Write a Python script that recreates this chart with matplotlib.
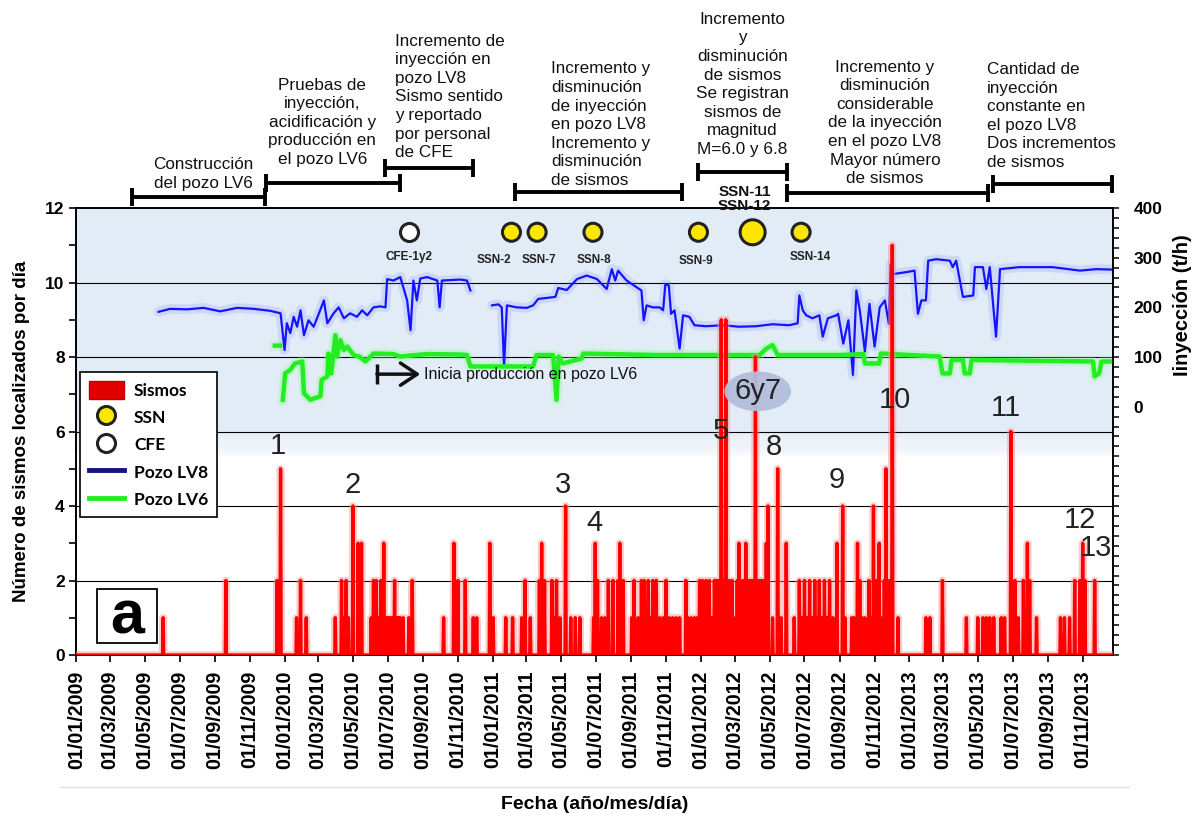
import numpy as np
import pandas as pd
import matplotlib
matplotlib.use('Agg')
import matplotlib.pyplot as plt
import matplotlib.dates as mdates
from matplotlib.lines import Line2D
from matplotlib.patches import Patch, Rectangle
from matplotlib.ticker import FixedLocator, MultipleLocator
from matplotlib.transforms import blended_transform_factory

plt.rcParams['font.family'] = ['Liberation Sans', 'DejaVu Sans']

# --- sismos localizados por dia (solo dias con eventos) ---
sismo_fechas = [
    '2009-06-02', '2009-09-20', '2009-12-19', '2009-12-25', '2010-01-22', '2010-01-29',
    '2010-02-08', '2010-03-31', '2010-04-11', '2010-04-15', '2010-04-19', '2010-04-23',
    '2010-05-01', '2010-05-10', '2010-05-16', '2010-06-02', '2010-06-06', '2010-06-11',
    '2010-06-15', '2010-06-19', '2010-06-24', '2010-06-28', '2010-07-03', '2010-07-07',
    '2010-07-13', '2010-07-17', '2010-07-23', '2010-07-28', '2010-08-07', '2010-08-13',
    '2010-10-07', '2010-10-25', '2010-11-01', '2010-11-14', '2010-11-28', '2010-12-04',
    '2010-12-27', '2011-01-02', '2011-01-24', '2011-02-05', '2011-02-21', '2011-02-27',
    '2011-03-08', '2011-03-24', '2011-03-28', '2011-04-02', '2011-04-15', '2011-04-19',
    '2011-04-23', '2011-04-29', '2011-05-09', '2011-05-18', '2011-05-26', '2011-06-03',
    '2011-06-27', '2011-06-30', '2011-07-04', '2011-07-11', '2011-07-17', '2011-07-23',
    '2011-07-31', '2011-08-09', '2011-08-12', '2011-08-18', '2011-09-02', '2011-09-06',
    '2011-09-19', '2011-09-24', '2011-09-28', '2011-10-01', '2011-10-05', '2011-10-09',
    '2011-10-15', '2011-10-21', '2011-11-01', '2011-11-13', '2011-11-19', '2011-11-25',
    '2011-12-06', '2011-12-15', '2011-12-21', '2011-12-30', '2012-01-04', '2012-01-10',
    '2012-01-16', '2012-01-22', '2012-01-28', '2012-02-06', '2012-02-14', '2012-02-20',
    '2012-02-25', '2012-03-02', '2012-03-08', '2012-03-14', '2012-03-20', '2012-03-26',
    '2012-04-06', '2012-04-12', '2012-04-18', '2012-04-28', '2012-05-06', '2012-05-15',
    '2012-05-21', '2012-05-30', '2012-06-13', '2012-06-22', '2012-07-01', '2012-07-10',
    '2012-07-19', '2012-07-27', '2012-08-05', '2012-08-14', '2012-08-20', '2012-08-27',
    '2012-09-06', '2012-09-22', '2012-10-02', '2012-10-06', '2012-10-15', '2012-10-22',
    '2012-10-30', '2012-11-04', '2012-11-09', '2012-11-15', '2012-11-21', '2012-11-27',
    '2012-12-02', '2012-12-12', '2013-01-30', '2013-02-06', '2013-02-28', '2013-04-11',
    '2013-05-01', '2013-05-10', '2013-05-16', '2013-05-22', '2013-05-29', '2013-06-11',
    '2013-06-17', '2013-06-28', '2013-07-05', '2013-07-11', '2013-07-20', '2013-07-27',
    '2013-07-31', '2013-08-12', '2013-09-23', '2013-09-30', '2013-10-09', '2013-10-18',
    '2013-10-27', '2013-11-01', '2013-11-05', '2013-11-22',
    # dias adicionales en los periodos de mayor actividad
    '2010-06-08', '2010-07-01', '2010-07-10', '2010-07-20', '2011-09-13', '2011-10-12',
    '2011-10-27', '2011-11-07', '2011-12-10', '2011-12-26', '2012-01-07', '2012-01-13',
    '2012-01-19', '2012-01-25', '2012-02-01', '2012-02-10', '2012-02-17', '2012-03-05',
    '2012-03-11', '2012-03-17', '2012-03-23', '2012-03-29', '2012-04-02', '2012-04-09',
    '2012-04-15', '2012-04-22', '2012-04-25', '2012-06-26', '2012-07-05', '2012-07-14',
    '2012-07-23', '2012-08-01', '2012-08-09', '2012-09-10', '2012-09-26', '2012-10-10',
    '2012-10-26', '2012-11-18',
]
sismo_num = [
    1, 2, 2, 5, 1, 2,
    1, 1, 2, 1, 2, 1,
    4, 3, 3, 1, 2, 2,
    1, 2, 3, 1, 1, 1,
    2, 1, 1, 1, 1, 2,
    1, 3, 2, 2, 1, 1,
    3, 1, 1, 1, 1, 2,
    1, 2, 3, 2, 2, 1,
    2, 1, 4, 1, 1, 1,
    1, 3, 2, 1, 1, 2,
    2, 2, 3, 2, 1, 2,
    2, 2, 1, 2, 1, 2,
    2, 1, 2, 1, 1, 1,
    2, 1, 1, 2, 2, 2,
    2, 1, 2, 9, 9, 2,
    2, 1, 3, 2, 3, 2,
    8, 2, 2, 4, 1, 5,
    1, 3, 1, 2, 2, 2,
    2, 2, 2, 2, 1, 3,
    4, 1, 3, 2, 1, 2,
    4, 2, 3, 1, 5, 2,
    11, 1, 1, 1, 2, 1,
    1, 1, 1, 1, 1, 1,
    1, 6, 2, 1, 2, 3,
    2, 1, 1, 1, 1, 2,
    2, 3, 2, 2,
    1, 1, 1, 1, 1, 1,
    1, 1, 1, 1, 1, 1,
    1, 2, 2, 2, 1, 2,
    1, 2, 2, 2, 2, 2,
    2, 2, 3, 1, 1, 1,
    1, 1, 1, 1, 1, 1,
    1, 2,
]

# --- inyeccion pozo LV8 (t/h) ---
lv8_fechas = [
    '2009-05-25', '2009-06-14', '2009-07-14', '2009-08-12', '2009-09-10', '2009-10-10',
    '2009-11-08', '2009-12-07', '2009-12-25', '2010-01-01', '2010-01-05', '2010-01-11',
    '2010-01-17', '2010-01-23', '2010-01-29', '2010-02-04', '2010-02-12', '2010-02-21',
    '2010-03-02', '2010-03-11', '2010-03-17', '2010-03-28', '2010-04-06', '2010-04-15',
    '2010-04-26', '2010-05-08', '2010-05-17', '2010-05-26', '2010-06-06', '2010-06-18',
    '2010-06-27', '2010-06-30', '2010-07-11', '2010-07-23', '2010-08-04', '2010-08-10',
    '2010-08-15', '2010-08-21', '2010-08-27', '2010-09-08', '2010-09-26', '2010-09-30',
    '2010-10-04', '2010-11-05', '2010-11-17', '2010-11-23', '2010-12-10',
    '2010-12-31', '2011-01-11', '2011-01-17', '2011-01-21', '2011-01-26', '2011-02-12',
    '2011-03-02', '2011-03-13', '2011-03-22', '2011-04-06', '2011-04-21', '2011-04-26',
    '2011-05-11', '2011-05-29', '2011-06-15', '2011-07-03', '2011-07-20', '2011-07-29',
    '2011-08-04', '2011-08-09', '2011-08-24', '2011-09-10', '2011-09-19', '2011-09-23',
    '2011-09-28', '2011-10-09', '2011-10-21', '2011-10-27', '2011-10-31', '2011-11-06',
    '2011-11-10', '2011-11-16', '2011-11-25', '2011-12-01', '2011-12-12', '2011-12-21',
    '2012-01-10', '2012-02-09', '2012-03-08', '2012-04-07', '2012-05-06', '2012-06-04',
    '2012-06-19', '2012-06-22', '2012-06-28', '2012-07-04', '2012-07-15', '2012-07-27',
    '2012-08-02', '2012-08-11', '2012-08-26', '2012-08-29', '2012-09-07', '2012-09-16',
    '2012-09-24', '2012-09-30', '2012-10-06', '2012-10-15', '2012-10-23', '2012-11-01',
    '2012-11-10', '2012-11-19', '2012-11-26', '2012-11-29', '2012-12-03', '2012-12-27',
    '2013-01-10', '2013-01-16', '2013-01-22', '2013-01-30', '2013-02-03', '2013-02-17',
    '2013-03-13', '2013-03-18', '2013-03-24', '2013-04-05', '2013-04-23', '2013-04-26',
    '2013-05-10', '2013-05-16', '2013-05-22', '2013-06-02', '2013-06-09', '2013-07-13',
    '2013-09-09', '2013-10-27', '2013-11-25', '2013-12-23',
]
lv8_iny = [
    191, 197, 196, 199, 192, 199,
    197, 193, 188, 114, 168, 148,
    181, 161, 194, 144, 174, 161,
    187, 214, 168, 188, 200, 178,
    188, 181, 194, 184, 200, 202,
    200, 257, 254, 261, 214, 154,
    254, 214, 258, 261, 254, 200,
    254, 256, 254, 234, np.nan,
    204, 206, 200, 81, 204, 200,
    199, 204, 217, 219, 221, 239,
    235, 257, 264, 257, 237, 277,
    254, 274, 254, 241, 234, 174,
    204, 200, 200, 194, 247, 244,
    187, 194, 117, 184, 181, 164,
    162, 164, 161, 162, 166, 164,
    168, 224, 194, 184, 178, 184,
    141, 178, 184, 187, 127, 174,
    64, 234, 194, 111, 207, 121,
    200, 214, 167, 287, 267, 271,
    274, 187, 214, 214, 294, 297,
    294, 281, 294, 221, 224, 281,
    281, 237, 281, 141, 277, 281,
    281, 274, 277, 276,
]

# --- produccion pozo LV6 (t/h) ---
lv6_fechas = [
    '2009-12-15', '2009-12-24', '2009-12-27',
    '2009-12-29', '2010-01-02', '2010-01-11', '2010-01-19', '2010-02-01', '2010-02-04',
    '2010-02-15', '2010-03-05', '2010-03-07', '2010-03-17', '2010-03-19', '2010-03-24',
    '2010-03-31', '2010-04-03', '2010-04-09', '2010-04-15', '2010-04-21', '2010-05-02',
    '2010-05-12', '2010-05-23', '2010-06-06', '2010-07-11', '2010-07-23', '2010-09-08',
    '2010-11-05', '2010-11-17', '2010-11-23', '2011-03-13', '2011-03-19', '2011-04-17',
    '2011-04-23', '2011-04-27', '2011-05-04', '2011-06-06', '2011-06-09', '2011-10-15',
    '2012-04-13', '2012-04-25', '2012-05-06', '2012-05-15', '2012-09-01', '2012-10-12',
    '2012-10-15', '2012-11-09', '2012-11-12', '2013-02-23', '2013-02-28', '2013-03-13',
    '2013-03-16', '2013-04-05', '2013-04-08', '2013-04-17', '2013-04-20', '2013-11-19',
    '2013-11-22', '2013-11-30', '2013-12-04', '2013-12-23',
]
lv6_iny = [
    123, 123, np.nan,
    14, 67, 74, 87, 91, 27,
    14, 21, 54, 61, 107, 67,
    144, 101, 134, 114, 121, 104,
    101, 91, 107, 106, 101, 106,
    105, 104, 81, 81, 104, 104,
    14, 101, 87, 97, 107, 104,
    104, 117, 124, 104, 104, 106,
    87, 87, 107, 101, 67, 67,
    94, 94, 67, 67, 94, 91,
    61, 67, 91, 91,
]

# --- estaciones SSN y CFE ---
ssn_fechas = ['2011-02-03', '2011-03-20', '2011-06-26', '2011-12-28', '2012-04-01', '2012-06-25']
ssn_tam = [13, 13, 13, 13, 18, 13]
cfe_fechas = ['2010-08-08']
marca_y = 11.35
ssn_etiquetas = [('CFE-1y2', '2010-08-08', 10.68), ('SSN-2', '2011-01-04', 10.6),
                 ('SSN-7', '2011-03-24', 10.6), ('SSN-8', '2011-06-28', 10.6),
                 ('SSN-9', '2011-12-23', 10.57), ('SSN-14', '2012-07-11', 10.68)]

# --- numeracion de eventos ---
eventos = [('1', '2009-12-21', 5.61), ('2', '2010-04-30', 4.56), ('3', '2011-05-04', 4.56),
           ('4', '2011-06-28', 3.54), ('5', '2012-02-06', 6.01), ('8', '2012-05-08', 5.58),
           ('9', '2012-08-26', 4.70), ('10', '2012-12-07', 6.85), ('11', '2013-06-20', 6.63),
           ('12', '2013-10-27', 3.62), ('13', '2013-11-25', 2.87)]

# --- etapas (inicio, fin, altura de la barra en fraccion del eje) ---
etapas = [('2009-04-08', '2009-11-27', 1.0246), ('2009-11-29', '2010-07-23', 1.0559),
          ('2010-06-27', '2010-11-28', 1.0895), ('2011-02-09', '2011-11-30', 1.0358),
          ('2011-12-27', '2012-06-01', 1.0805), ('2012-06-01', '2013-05-19', 1.0336),
          ('2013-05-27', '2013-12-22', 1.0537)]
etapa_textos = [
    ('2009-08-12', 1.038, 'center', 'Construcción\ndel pozo LV6'),
    ('2010-03-08', 1.092, 'center', 'Pruebas de\ninyección,\nacidificación y\nproducción en\nel pozo LV6'),
    ('2010-07-14', 1.107, 'left', 'Incremento de\ninyección en\npozo LV8\nSismo sentido\ny reportado\npor personal\nde CFE'),
    ('2011-04-13', 1.045, 'left', 'Incremento y\ndisminución\nde inyección\nen pozo LV8\nIncremento y\ndisminución\nde sismos'),
    ('2012-03-14', 1.114, 'center', 'Incremento\ny\ndisminución\nde sismos\nSe registran\nsismos de\nmagnitud\nM=6.0 y 6.8'),
    ('2012-11-19', 1.049, 'center', 'Incremento y\ndisminución\nconsiderable\nde la inyección\nen el pozo LV8\nMayor número\nde sismos'),
    ('2013-05-17', 1.085, 'left', 'Cantidad de\ninyección\nconstante en\nel pozo LV8\nDos incrementos\nde sismos'),
]

fig = plt.figure(figsize=(11.95, 8.21), dpi=100)
ax = fig.add_axes([0.064, 0.2022, 0.8673, 0.5444])
ax2 = ax.twinx()
ax.set_zorder(ax2.get_zorder() + 1)
ax.patch.set_visible(False)

x0, x1 = pd.Timestamp('2009-01-01'), pd.Timestamp('2013-12-24')
ax.set_xlim(x0, x1)
ax.set_ylim(0, 12)
ax2.set_ylim(-500, 400)

# fondo azul claro en la parte alta, difuminado hacia abajo
fondo = '#e2ecf7'
ax2.add_patch(Rectangle((0, 0.50), 1, 0.50, transform=ax2.transAxes,
                        facecolor=fondo, edgecolor='none', zorder=0))
n_fade = 14
for i in range(n_fade):
    ax2.add_patch(Rectangle((0, 0.44 + i * 0.06 / n_fade), 1, 0.06 / n_fade + 0.001,
                            transform=ax2.transAxes, facecolor=fondo, edgecolor='none',
                            alpha=(i + 1) / (n_fade + 1), zorder=0))
ax2.hlines([2, 4, 6, 8, 10], 0, 1, transform=blended_transform_factory(ax2.transAxes, ax.transData),
           colors='black', lw=0.8, zorder=1)

# curvas de inyeccion y produccion
f8 = pd.to_datetime(lv8_fechas)
f6 = pd.to_datetime(lv6_fechas)
ax2.plot(f8, lv8_iny, color='#6f7bff', lw=7, alpha=0.18, zorder=2, solid_capstyle='round')
ax2.plot(f8, lv8_iny, color='#1414ff', lw=1.6, zorder=3)
ax2.plot(f6, lv6_iny, color='#7dff7d', lw=7, alpha=0.3, zorder=2)
ax2.plot(f6, lv6_iny, color='#22ee22', lw=3.2, zorder=3)

# serie diaria de sismos
dias = pd.date_range('2009-01-01', '2013-12-31', freq='D')
serie = pd.Series(0.0, index=dias)
serie.loc[pd.to_datetime(sismo_fechas)] = sismo_num
ax.plot(serie.index, serie.values, color='#ff8c8c', lw=5.5, alpha=0.45, zorder=3)
ax.plot(serie.index, serie.values, color='#ff0000', lw=2.4, zorder=4)

# estaciones
ax.scatter(pd.to_datetime(ssn_fechas), np.full(len(ssn_fechas), marca_y), s=np.array(ssn_tam) ** 2,
           c='#ffe600', edgecolors='#222222', linewidths=2.2, zorder=6)
ax.scatter(pd.to_datetime(cfe_fechas), np.full(len(cfe_fechas), marca_y), s=13 ** 2,
           c='white', edgecolors='#222222', linewidths=2.2, zorder=6)
for txt, f, y in ssn_etiquetas:
    ax.text(pd.Timestamp(f), y, txt, fontsize=8.5, fontweight='bold', color='#222222',
            ha='center', va='center', zorder=6)
ax.text(pd.Timestamp('2012-03-18'), 12.24, 'SSN-11\nSSN-12', fontsize=11, fontweight='bold',
        color='#111111', ha='center', va='center', linespacing=1.0, clip_on=False, zorder=6)

# numeracion de eventos
for txt, f, y in eventos:
    ax.text(pd.Timestamp(f), y, txt, fontsize=21, color='#222222', ha='center', va='center', zorder=7)
ax.text(pd.Timestamp('2012-04-10'), 7.08, '6y7', fontsize=21, color='#222222', ha='center',
        va='center', zorder=7,
        bbox=dict(boxstyle='ellipse,pad=0.0', fc='#b3bedb', ec='none', alpha=0.95))

# inicio de produccion
flecha_ini, flecha_fin, flecha_y = pd.Timestamp('2010-06-12'), pd.Timestamp('2010-08-27'), 7.54
ax.annotate('', xy=(flecha_fin, flecha_y), xytext=(flecha_ini, flecha_y),
            arrowprops=dict(arrowstyle='->,head_length=0.6,head_width=0.4', lw=2.5,
                            color='#111111', mutation_scale=20, shrinkA=0, shrinkB=0),
            zorder=7)
ax.plot([flecha_ini, flecha_ini], [flecha_y - 0.27, flecha_y + 0.27], color='#111111', lw=2.5,
        zorder=7, solid_capstyle='butt')
ax.text(pd.Timestamp('2010-09-03'), flecha_y, 'Inicia producción en pozo LV6', fontsize=11.5,
        color='#111111', ha='left', va='center', zorder=7)

# recuadro "a"
ax.add_patch(Rectangle((0.0198, 0.0268), 0.0579, 0.1208, transform=ax.transAxes, fc='white',
                       ec='black', lw=1.3, zorder=8))
ax.text(0.0487, 0.049, 'a', transform=ax.transAxes, fontsize=44, fontweight='bold',
        ha='center', va='baseline', zorder=9)

# etapas sobre la grafica
tr = blended_transform_factory(ax.transData, ax.transAxes)
for ini, fin, yb in etapas:
    a, b = pd.Timestamp(ini), pd.Timestamp(fin)
    ax.plot([a, b], [yb, yb], color='black', lw=2.8, transform=tr, clip_on=False, solid_capstyle='butt')
    for xx in (a, b):
        ax.plot([xx, xx], [yb - 0.021, yb + 0.021], color='black', lw=2.8, transform=tr,
                clip_on=False, solid_capstyle='butt')
for f, yt, ha, txt in etapa_textos:
    ax.text(pd.Timestamp(f), yt, txt, transform=tr, fontsize=12.3, ha=ha, va='bottom',
            multialignment=ha, linespacing=1.3, color='#111111')

# ejes
ax.xaxis.set_major_locator(mdates.MonthLocator(bymonth=[1, 3, 5, 7, 9, 11]))
ax.xaxis.set_major_formatter(mdates.DateFormatter('%d/%m/%Y'))
ax.tick_params(axis='x', direction='out', length=5, width=1.2, labelsize=14.2, rotation=90, pad=6)
ax.set_yticks(range(0, 13, 2))
ax.yaxis.set_minor_locator(MultipleLocator(1))
ax.tick_params(axis='y', which='both', direction='out', length=5, width=1.2, labelsize=12.5)
for lbl in ax.get_xticklabels() + ax.get_yticklabels():
    lbl.set_fontweight('bold')

ax2.yaxis.set_major_locator(FixedLocator([0, 100, 200, 300, 400]))
ax2.yaxis.set_minor_locator(MultipleLocator(20))
ax2.tick_params(axis='y', which='both', direction='out', length=4, width=1.1, labelsize=12.5, pad=11)
for lbl in ax2.get_yticklabels():
    lbl.set_fontweight('bold')

for a_ in (ax, ax2):
    for sp in a_.spines.values():
        sp.set_linewidth(1.2)

ax.set_ylabel('Número de sismos localizados por día', fontsize=13.5, fontweight='bold')
ax.yaxis.set_label_coords(-0.045, 0.5)
ax.set_xlabel('Fecha (año/mes/día)', fontsize=14, fontweight='bold')
ax.xaxis.set_label_coords(0.5, -0.316)
ax2.set_ylabel('Iinyección (t/h)', fontsize=14.5, fontweight='bold')
ax2.yaxis.set_label_coords(1.058, 0.783)

# leyenda
handles = [Patch(facecolor='#e00000', edgecolor='#c00000'),
           Line2D([], [], marker='o', ls='none', markersize=13, markerfacecolor='#ffe600',
                  markeredgecolor='#222222', markeredgewidth=2.2),
           Line2D([], [], marker='o', ls='none', markersize=13, markerfacecolor='white',
                  markeredgecolor='#222222', markeredgewidth=2.2),
           Line2D([], [], color='#14147a', lw=3.5),
           Line2D([], [], color='#22ee22', lw=3.5)]
labels = ['Sismos', 'SSN', 'CFE', 'Pozo LV8', 'Pozo LV6']
leg = ax.legend(handles, labels, loc='upper left', bbox_to_anchor=(0.0035, 0.633),
                prop=dict(family='Lato', weight='bold', size=12.5), frameon=True, fancybox=False,
                edgecolor='black', framealpha=1, borderpad=0.5, labelspacing=0.55,
                handlelength=2.0, handleheight=1.2, handletextpad=0.6, borderaxespad=0)
leg.get_frame().set_linewidth(1.2)
leg.set_zorder(10)

fig.add_artist(Line2D([0.05, 0.945], [1 - 787 / 821] * 2, color='#e2e2e2', lw=1))

fig.savefig('out.png', dpi=100)
